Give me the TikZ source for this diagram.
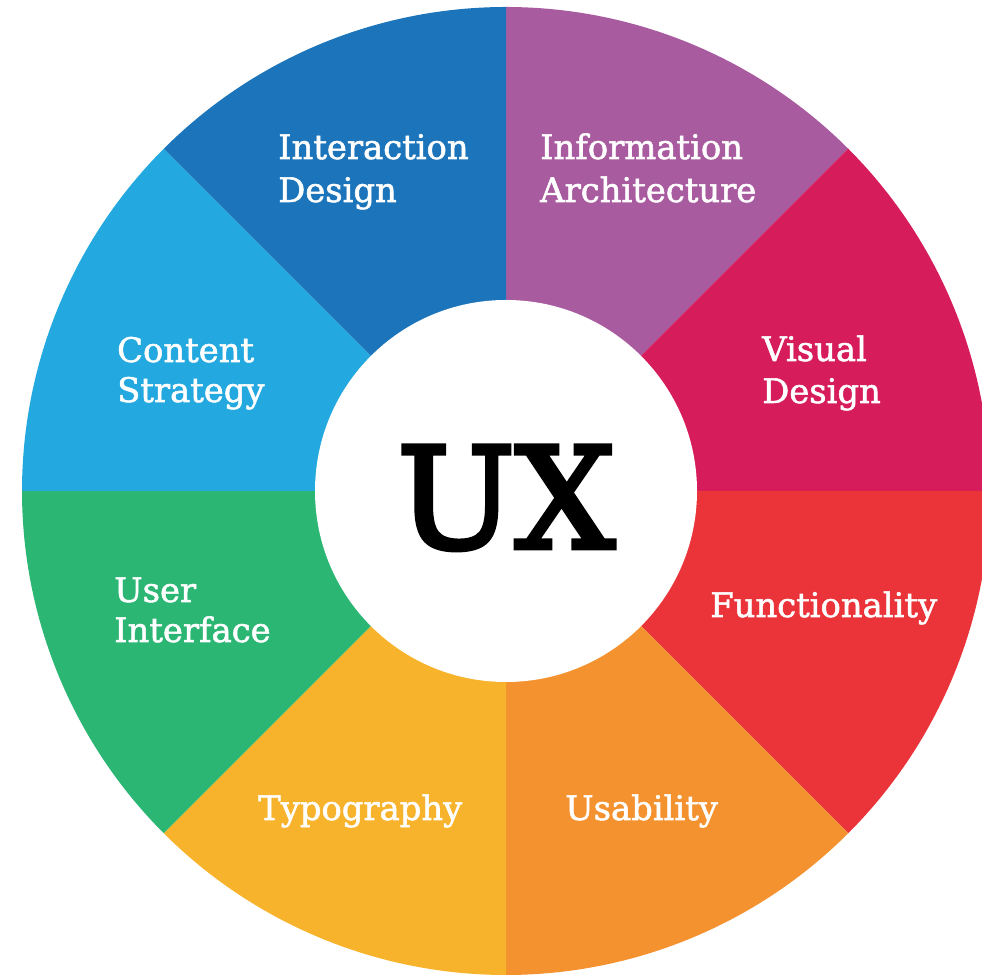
\documentclass[tikz,border=0pt]{standalone}
\usepackage{fontspec}
\setmainfont{DejaVu Serif}
\newfontfamily\labelfont[FakeBold=1.6]{DejaVu Serif}
\newfontfamily\uxfont[FakeBold=3.5]{DejaVu Serif}

\definecolor{cInteraction}{RGB}{28,117,186}
\definecolor{cInformation}{RGB}{169,91,159}
\definecolor{cVisual}{RGB}{214,28,90}
\definecolor{cFunction}{RGB}{234,52,57}
\definecolor{cUsability}{RGB}{244,146,47}
\definecolor{cTypography}{RGB}{248,179,44}
\definecolor{cInterface}{RGB}{43,182,115}
\definecolor{cContent}{RGB}{35,169,223}

\tikzset{
  seglabel/.style={anchor=base west, inner sep=0pt, text=white,
    font=\labelfont\fontsize{33.8}{40}\selectfont},
  uxlabel/.style={anchor=base, inner sep=0pt, text=black,
    font=\uxfont\fontsize{140}{150}\selectfont},
}

\begin{document}
\begin{tikzpicture}[x=1pt,y=1pt]
  \useasboundingbox (0,0) rectangle (982,976);
  \coordinate (c) at (506,485);
  \def\outerR{484}
  \def\innerR{191}

  % eight coloured sectors of the wheel
  \foreach \a/\col in {90/cInformation, 45/cVisual, 0/cFunction, -45/cUsability,
                       -90/cTypography, -135/cInterface, 180/cContent, 135/cInteraction}{
    \fill[\col] (c) -- ++(\a:\outerR) arc[start angle=\a, end angle=\a-45, radius=\outerR] -- cycle;
  }

  % white hub
  \fill[white] (c) circle[radius=\innerR];
  \node[uxlabel] (ux) at (506,428) {UX};

  % sector labels
  \node[seglabel] (interaction-a) at (278,817) {Interaction};
  \node[seglabel] (interaction-b) at (278,774) {Design};
  \node[seglabel] (information-a) at (540,817) {Information};
  \node[seglabel] (information-b) at (540,774) {Architecture};
  \node[seglabel] (content-a) at (117,614) {Content};
  \node[seglabel] (content-b) at (117,574) {Strategy};
  \node[seglabel] (visual-a) at (762,615) {Visual};
  \node[seglabel] (visual-b) at (762,573) {Design};
  \node[seglabel] (interface-a) at (114,374) {User};
  \node[seglabel] (interface-b) at (114,334) {Interface};
  \node[seglabel] (functionality) at (710,359) {Functionality};
  \node[seglabel] (typography) at (258,156) {Typography};
  \node[seglabel] (usability) at (565,156) {Usability};
\end{tikzpicture}
\end{document}
